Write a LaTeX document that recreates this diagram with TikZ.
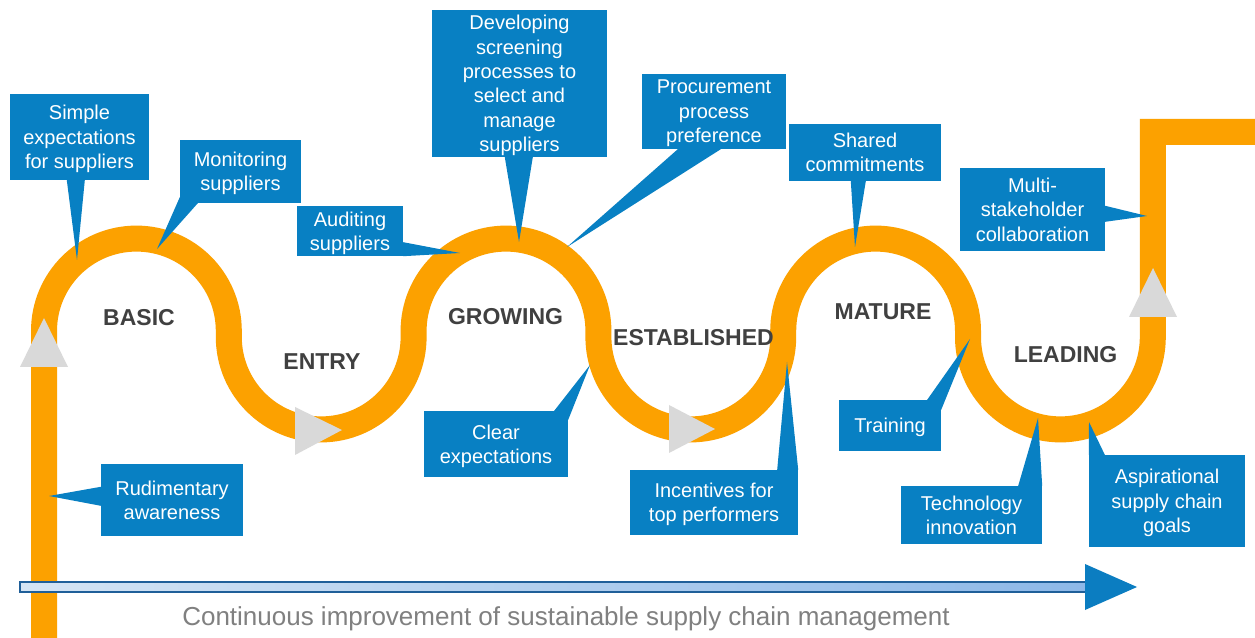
\documentclass[tikz,border=0pt]{standalone}
\usepackage{fontspec}
\setmainfont{Liberation Sans}
\usetikzlibrary{calc}
\definecolor{bandc}{RGB}{252,161,0}
\definecolor{callblue}{RGB}{8,128,195}
\definecolor{tric}{RGB}{217,217,217}
\definecolor{labc}{RGB}{64,64,64}
\definecolor{captext}{RGB}{128,128,128}
\definecolor{shaftL}{RGB}{212,228,244}
\definecolor{shaftR}{RGB}{141,184,232}
\definecolor{shaftB}{RGB}{31,95,153}
\definecolor{headc}{RGB}{11,125,193}
\begin{document}
\begin{tikzpicture}[x=1pt,y=1pt,
 callout/.style={fill=callblue, text=white, align=center, inner sep=0pt, text depth=0pt, font=\fontsize{20}{24.4}\selectfont},
 callptr/.style={fill=callblue},
 stage/.style={text=labc, font=\fontsize{23}{27}\selectfont\bfseries, inner sep=0pt},
 marker/.style={fill=tric},
 bandline/.style={draw=bandc, line width=26pt, line join=miter}]
\useasboundingbox (0,0) rectangle (1255,637);
\fill[white] (0,0) rectangle (1255,637);
% the orange band
\draw[bandline] (44,-2) -- (44,306)
  arc[start angle=180,end angle=0,radius=92.4] -- ++(0,-6)
  arc[start angle=180,end angle=360,radius=92.4] -- ++(0,6)
  arc[start angle=180,end angle=0,radius=92.4] -- ++(0,-6)
  arc[start angle=180,end angle=360,radius=92.4] -- ++(0,6)
  arc[start angle=180,end angle=0,radius=92.4] -- ++(0,-6)
  arc[start angle=180,end angle=360,radius=92.4]
  -- (1152.8,505) -- (1258,505);
% grey direction markers
\fill[marker] (20,270) -- (44,319) -- (68,270) -- cycle;
\fill[marker] (295,230) -- (342,207) -- (295,182) -- cycle;
\fill[marker] (669,232) -- (715,208) -- (669,184) -- cycle;
\fill[marker] (1129,320) -- (1153,369) -- (1177,320) -- cycle;
% stage labels
\node[stage] (basic) at (139,319.5) {BASIC};
\node[stage] (entry) at (322,275) {ENTRY};
\node[stage] (growing) at (505.5,320.5) {GROWING};
\node[stage] (established) at (693.5,299) {ESTABLISHED};
\node[stage] (mature) at (883,325.5) {MATURE};
\node[stage] (leading) at (1065.5,282) {LEADING};
% pointer tips
\coordinate (t1) at (77,377);
\coordinate (t2) at (157,388);
\coordinate (t3) at (460,384);
\coordinate (t4) at (519,395);
\coordinate (t5) at (567,390);
\coordinate (t6) at (855,390);
\coordinate (t7) at (1147,421);
\coordinate (t8) at (49,141);
\coordinate (t9) at (590,272);
\coordinate (t10) at (787,275);
\coordinate (t11) at (970,298);
\coordinate (t12) at (1038,219);
\coordinate (t13) at (1089,215);
% callout boxes
\node[callout, minimum width=139pt, minimum height=86pt] (c1) at (79.5,500) {Simple\\expectations\\for suppliers};
\node[callout, minimum width=121pt, minimum height=63pt] (c2) at (240.5,465.5) {Monitoring\\suppliers};
\node[callout, minimum width=106pt, minimum height=50pt] (c3) at (350,406) {Auditing\\suppliers};
\node[callout, minimum width=175pt, minimum height=147pt] (c4) at (519.5,553.5) {Developing\\screening\\processes to\\select and\\manage\\suppliers};
\node[callout, minimum width=144pt, minimum height=75pt] (c5) at (714,525.5) {Procurement\\process\\preference};
\node[callout, minimum width=152pt, minimum height=57pt] (c6) at (865,484.5) {Shared\\commitments};
\node[callout, minimum width=145pt, minimum height=83pt] (c7) at (1032.5,427.5) {Multi-\\stakeholder\\collaboration};
\node[callout, minimum width=142pt, minimum height=72pt] (c8) at (172,137) {Rudimentary\\awareness};
\node[callout, minimum width=144pt, minimum height=66pt] (c9) at (496,193) {Clear\\expectations};
\node[callout, minimum width=168pt, minimum height=65pt] (c10) at (714,134.5) {Incentives for\\top performers};
\node[callout, minimum width=102pt, minimum height=51pt] (c11) at (890,211.5) {Training};
\node[callout, minimum width=141pt, minimum height=58pt] (c12) at (971.5,122) {Technology\\innovation};
\node[callout, minimum width=156pt, minimum height=92pt] (c13) at (1167,136) {Aspirational\\supply chain\\goals};
% callout pointers
\fill[callptr] ($(c1.south west)+(57,0)$) -- ($(c1.south west)+(75,0)$) -- (t1) -- cycle;
\fill[callptr] ($(c2.south west)+(0,6)$) -- ($(c2.south west)+(18,0)$) -- (t2) -- cycle;
\fill[callptr] ($(c3.south east)+(0,14)$) -- (c3.south east) -- (t3) -- cycle;
\fill[callptr] ($(c4.south west)+(73,0)$) -- ($(c4.south west)+(101,0)$) -- (t4) -- cycle;
\fill[callptr] ($(c5.south west)+(36,0)$) -- ($(c5.south west)+(79,0)$) -- (t5) -- cycle;
\fill[callptr] ($(c6.south west)+(62,0)$) -- ($(c6.south west)+(77,0)$) -- (t6) -- cycle;
\fill[callptr] ($(c7.north east)+(0,-38)$) -- ($(c7.north east)+(0,-54)$) -- (t7) -- cycle;
\fill[callptr] ($(c8.north west)+(0,-23)$) -- ($(c8.north west)+(0,-42)$) -- (t8) -- cycle;
\fill[callptr] ($(c9.north east)+(-14,0)$) -- ($(c9.north east)+(0,-9)$) -- (t9) -- cycle;
\fill[callptr] ($(c10.north east)+(-21,0)$) -- (c10.north east) -- (t10) -- cycle;
\fill[callptr] ($(c11.north east)+(-14,0)$) -- ($(c11.north east)+(0,-10)$) -- (t11) -- cycle;
\fill[callptr] ($(c12.north east)+(-24,0)$) -- (c12.north east) -- (t12) -- cycle;
\fill[callptr] (c13.north west) -- ($(c13.north west)+(16,0)$) -- (t13) -- cycle;
% bottom arrow
\shade[left color=shaftL, right color=shaftR, draw=shaftB, line width=1.2pt] (20,45) rectangle (1088,55);
\fill[headc] (1085,73) -- (1137,50) -- (1085,27) -- cycle;
\node[anchor=base, text=captext, font=\fontsize{26}{30}\selectfont, inner sep=0pt] (cap) at (566,11.5) {Continuous improvement of sustainable supply chain management};
\end{tikzpicture}
\end{document}
